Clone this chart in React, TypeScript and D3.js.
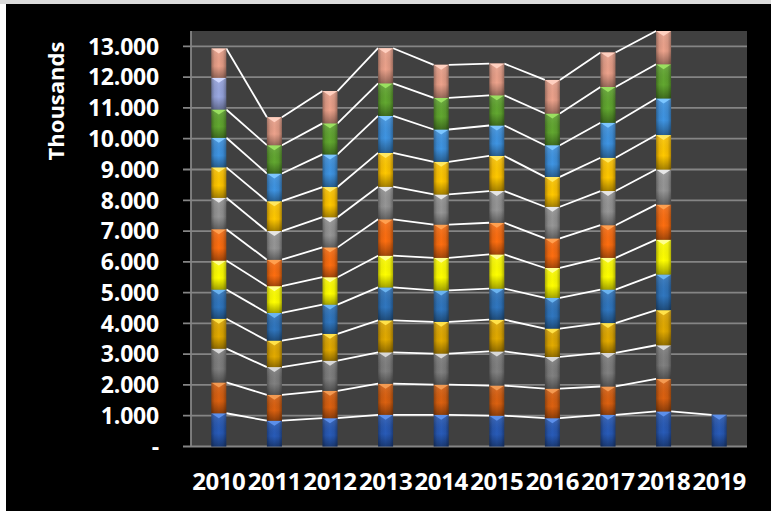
import * as d3 from 'd3';

const years = ['2010', '2011', '2012', '2013', '2014', '2015', '2016', '2017', '2018', '2019'];

// stacked segments, bottom to top (null = no value that year)
const series01 = [1080, 840, 920, 1030, 1030, 1000, 920, 1030, 1140, 1030];
const series02 = [1000, 840, 890, 1010, 980, 980, 960, 920, 1060, null];
const series03 = [1100, 900, 980, 1020, 1010, 1110, 1030, 1090, 1090, null];
const series04 = [970, 860, 870, 1040, 1030, 1030, 920, 970, 1140, null];
const series05 = [950, 900, 950, 1070, 1020, 1010, 1000, 1090, 1160, null];
const series06 = [940, 870, 890, 1030, 1060, 1110, 970, 1030, 1130, null];
const series07 = [1020, 860, 970, 1180, 1080, 1030, 960, 1060, 1140, null];
const series08 = [1020, 930, 980, 1060, 980, 1030, 1030, 1110, 1140, null];
const series09 = [990, 970, 980, 1100, 1060, 1140, 970, 1080, 1120, null];
const series10 = [960, 900, 1060, 1200, 1050, 990, 1030, 1140, 1190, null];
const series11 = [920, 920, 1010, 1060, 1030, 980, 1030, 1160, 1110, null];
const series12 = [1030, null, null, null, null, null, null, null, null, null];
const series13 = [950, 910, 1050, 1140, 1070, 1030, 1090, 1120, 1080, null];

const seriesValues = [
  series01, series02, series03, series04, series05, series06, series07,
  series08, series09, series10, series11, series12, series13,
];

const baseColors = [
  '#2553a8', '#c9590f', '#767676', '#d09c00', '#2c6db0', '#f2f200', '#e8650f',
  '#8a8a8a', '#f0b800', '#3a88d0', '#5a9a2c', '#8e9bd0', '#d99580',
];
const tipColors = [
  '#5c8fea', '#f39a52', '#d8d8d8', '#ffe24a', '#6bb4f0', '#ffff90', '#ffa050',
  '#e6e6e6', '#ffe860', '#7cc6ff', '#9ae060', '#d0d8ff', '#ffd0c0',
];

const yTicks = d3.range(0, 13001, 1000);

const W = 771;
const H = 511;
const left = 191;
const right = 747;
const top = 31;
const bottom = 446.5;

const locale = d3.formatLocale({ decimal: ',', thousands: '.', grouping: [3], currency: ['', ''] });
const fmt = locale.format(',');

export default function App() {
  const x = d3.scaleBand().domain(years).range([left, right]).paddingInner(0.73).paddingOuter(0.365);
  const y = d3.scaleLinear().domain([0, 13500]).range([bottom, top]);
  const bw = x.bandwidth();

  // cumulative tops per series per year
  const stacks = years.map((_, j) => {
    let acc = 0;
    return seriesValues.map((s) => {
      const v = s[j];
      if (v == null) return null;
      const y0 = acc;
      acc += v;
      return { y0, y1: acc };
    });
  });

  const font = '"Open Sans", Lato, sans-serif';

  return (
    <svg width={W} height={H} style={{ position: 'absolute', left: 0, top: 0 }} fontFamily={font}>
      <defs>
        {baseColors.map((c, i) => {
          const dark = d3.color(c)!.darker(0.9).formatHex();
          const light = d3.color(c)!.brighter(0.25).formatHex();
          return (
            <linearGradient key={i} id={`g${i}`} x1="0" x2="1" y1="0" y2="0">
              <stop offset="0%" stopColor={dark} />
              <stop offset="22%" stopColor={c} />
              <stop offset="50%" stopColor={light} />
              <stop offset="78%" stopColor={c} />
              <stop offset="100%" stopColor={dark} />
            </linearGradient>
          );
        })}
        <linearGradient id="shade" x1="0" x2="0" y1="0" y2="1">
          <stop offset="0%" stopColor="#fff" stopOpacity={0.12} />
          <stop offset="60%" stopColor="#000" stopOpacity={0} />
          <stop offset="100%" stopColor="#000" stopOpacity={0.35} />
        </linearGradient>
      </defs>

      <rect width={W} height={H} fill="#fff" />
      <rect width={W} height={4} fill="#dcdcdc" />
      <rect x={6} y={4} width={W - 6} height={H - 4} fill="#000" />

      <rect x={left} y={top} width={right - left} height={bottom - top} fill="#404040" />

      {yTicks.map((t) => (
        <g key={t}>
          <line x1={left - 8} x2={right} y1={y(t)} y2={y(t)} stroke="#858585" strokeWidth={1.8} />
          <text
            x={159}
            y={y(t)}
            dy="0.36em"
            textAnchor="end"
            fill="#fff"
            fontSize={23}
            fontWeight="bold"
            letterSpacing={-0.2}
          >
            {t === 0 ? '-' : fmt(t)}
          </text>
        </g>
      ))}
      <line x1={left} x2={left} y1={top} y2={bottom} stroke="#858585" strokeWidth={1.8} />

      <text
        transform="translate(56,101) rotate(-90)"
        textAnchor="middle"
        dy="0.36em"
        fill="#fff"
        fontSize={22}
        fontWeight="bold"
      >
        Thousands
      </text>

      {/* series lines */}
      {seriesValues.map((_, i) =>
        years.slice(0, -1).map((yr, j) => {
          const a = stacks[j][i];
          const b = stacks[j + 1][i];
          if (!a || !b) return null;
          return (
            <line
              key={`${i}-${yr}`}
              x1={x(yr)! + bw}
              x2={x(years[j + 1])!}
              y1={y(a.y1)}
              y2={y(b.y1)}
              stroke="#fff"
              strokeWidth={1.8}
            />
          );
        })
      )}

      {years.map((yr, j) => (
        <g key={yr}>
          {stacks[j].map((seg, i) => {
            if (!seg) return null;
            const x0 = x(yr)!;
            const yTop = y(seg.y1);
            const h = y(seg.y0) - yTop;
            return (
              <g key={i}>
                <rect x={x0} y={yTop} width={bw} height={h} fill={`url(#g${i})`} />
                <rect x={x0} y={yTop} width={bw} height={h} fill="url(#shade)" />
                <polygon
                  points={`${x0},${yTop} ${x0 + bw},${yTop} ${x0 + bw / 2},${yTop + 5}`}
                  fill={tipColors[i]}
                />
              </g>
            );
          })}
          <text
            x={x(yr)! + bw / 2}
            y={490}
            textAnchor="middle"
            fill="#fff"
            fontSize={24}
            fontWeight="bold"
            letterSpacing={-0.4}
          >
            {yr}
          </text>
        </g>
      ))}
    </svg>
  );
}
